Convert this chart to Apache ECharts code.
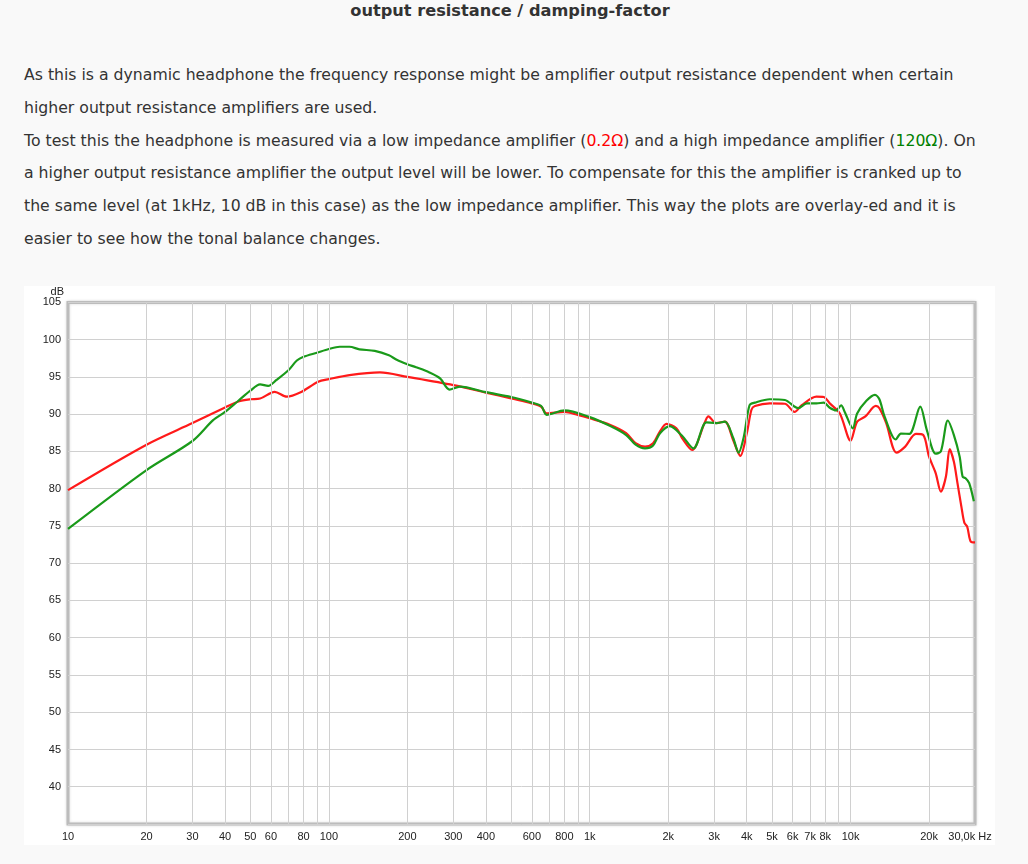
<!DOCTYPE html>
<html>
<head>
<meta charset="utf-8">
<script src="https://cdn.jsdelivr.net/npm/echarts@6/dist/echarts.min.js"></script>
<style>
  html, body { margin:0; padding:0; background:#f9f9f9; width:1028px; height:864px; overflow:hidden; }
  #title { position:absolute; left:0; width:1020px; top:1px; text-align:center; font-family:"DejaVu Sans",sans-serif; font-weight:bold; font-size:16.2px; color:#333; }
  #text { position:absolute; left:24px; top:59px; font-family:"DejaVu Sans",sans-serif; font-size:15.7px; line-height:32.8px; color:#333; white-space:nowrap; }
  .r { color:#ff0000; } .g { color:#008000; }
  #chart { position:absolute; left:24px; top:286px; width:971px; height:559px; background:#ffffff; }
</style>
</head>
<body>
<div id="title">output resistance / damping-factor</div>
<div id="text">As this is a dynamic headphone the frequency response might be amplifier output resistance dependent when certain<br>higher output resistance amplifiers are used.<br>To test this the headphone is measured via a low impedance amplifier (<span class="r">0.2Ω</span>) and a high impedance amplifier (<span class="g">120Ω</span>). On<br>a higher output resistance amplifier the output level will be lower. To compensate for this the amplifier is cranked up to<br>the same level (at 1kHz, 10 dB in this case) as the low impedance amplifier. This way the plots are overlay-ed and it is<br>easier to see how the tonal balance changes.</div>
<div id="chart"></div>
<script>
// ---- data ----
const redFreq = [10,20,30,40,45,50,54.5,62,69,77.6,91,100,120,157,200,300,400,500,600,652,684,800,900,1000,1200,1380,1500,1630,1750,1860,1970,2150,2260,2470,2770,2850,3050,3300,3550,3780,4000,4170,4300,4900,5600,6100,6500,7400,7900,8300,9100,10000,10600,11400,12500,12900,13700,15000,16200,17800,19000,20000,21200,22200,23200,24000,24900,25700,26600,27300,28000,28900,30000];
const redDb   = [79.8,85.9,88.8,90.9,91.7,92.0,92.1,93.0,92.35,92.9,94.35,94.7,95.25,95.6,95.0,93.9,92.9,92.1,91.45,91.0,90.1,90.3,89.9,89.45,88.55,87.45,86.1,85.65,86.1,87.7,88.7,88.1,86.8,85.2,89.0,89.7,88.8,89.0,86.5,84.4,87.4,90.6,91.1,91.45,91.4,90.3,91.2,92.35,92.3,91.5,90.1,86.45,89.0,89.7,91.1,90.8,88.8,84.85,85.65,87.35,87.2,84.3,82.1,79.6,81.6,85.3,83.6,80.75,77.6,75.45,74.9,72.9,72.8];
const greenFreq = [10,20,30,36,40,45,50,54.5,58.5,63,70,75.4,80,90,100,110,120,131,150,170,182,200,216,243,267,290,318,400,500,600,652,684,800,1000,1200,1380,1500,1630,1750,1860,2030,2260,2500,2800,3050,3300,3550,3720,3900,4100,4300,4900,5600,6300,6800,7400,7900,8300,8800,9200,9500,10200,10600,11500,12400,12900,13500,14900,15600,16800,18500,19600,21200,22200,23600,24900,26200,26900,27600,28500,29700];
const greenDb   = [74.6,82.5,86.4,89.2,90.3,91.8,93.15,94.0,93.8,94.6,95.9,97.2,97.7,98.25,98.75,99.05,99.05,98.7,98.5,97.9,97.3,96.7,96.3,95.6,94.8,93.3,93.7,92.95,92.3,91.55,91.1,89.9,90.5,89.6,88.4,87.2,85.9,85.4,85.8,87.45,88.4,87.1,85.4,88.9,88.8,89.0,86.8,84.85,87.0,91.2,91.55,92.0,91.9,90.8,91.45,91.45,91.55,90.9,90.5,91.2,90.3,88.1,90.1,91.8,92.6,92.0,89.7,86.6,87.4,87.35,91.0,87.9,84.7,85.0,89.15,87.2,84.3,81.6,81.4,80.75,78.3];
const xGridValues = [20,30,40,50,60,70,80,90,100,200,300,400,500,600,700,800,900,1000,2000,3000,4000,5000,6000,7000,8000,9000,10000,20000];
const xTickValues = [10,20,30,40,50,60,80,100,200,300,400,600,800,1000,2000,3000,4000,5000,6000,7000,8000,10000,20000,30000];
const xTickLabels = ['10','20','30','40','50','60','80','100','200','300','400','600','800','1k','2k','3k','4k','5k','6k','7k','8k','10k','20k','30,0k Hz'];
const yMin = 35, yMax = 105, yStep = 5;

// ---- chart ----
const chart = echarts.init(document.getElementById('chart'));
const pairs = (fs, vs) => fs.map((f, i) => [f, vs[i]]);
const allX = Array.from(new Set(xGridValues.concat(xTickValues))).sort((a, b) => a - b);
const markItems = allX.map(v => {
  const ti = xTickValues.indexOf(v);
  const isGrid = xGridValues.indexOf(v) >= 0;
  const item = { xAxis: v };
  if (!isGrid) item.lineStyle = { color: 'rgba(0,0,0,0)' };
  item.label = ti >= 0
    ? { show: true, formatter: xTickLabels[ti], offset: v === 30000 ? [-5, 0] : [0, 0] }
    : { show: false };
  return item;
});
chart.setOption({
  animation: false,
  grid: { left: 44, right: 20, top: 16, bottom: 21, show: true, borderColor: '#bcbcbc', borderWidth: 3,
          shadowColor: 'rgba(0,0,0,0.15)', shadowBlur: 3, backgroundColor: '#ffffff' },
  xAxis: {
    type: 'log', logBase: 10, min: 10, max: 30000,
    axisLine: { show: false }, axisTick: { show: false }, axisLabel: { show: false }, splitLine: { show: false }
  },
  yAxis: {
    type: 'value', min: yMin, max: yMax, interval: yStep,
    name: 'dB', nameLocation: 'end', nameGap: 2,
    nameTextStyle: { align: 'right', padding: [0, 4, 0, 0], color: '#222', fontSize: 11, fontFamily: 'Liberation Sans' },
    axisLine: { show: false }, axisTick: { show: false },
    axisLabel: { color: '#222', fontSize: 11, fontFamily: 'Liberation Sans', margin: 7,
                 formatter: v => (v === yMin ? '' : String(v)) },
    splitLine: { lineStyle: { color: '#d0d0d0', width: 1 } }
  },
  series: [
    { type: 'line', data: [], silent: true, clip: false,
      markLine: { silent: true, symbol: ['none', 'none'], animation: false,
        lineStyle: { color: '#d0d0d0', type: 'solid', width: 1 },
        label: { position: 'start', distance: 7, color: '#222', fontSize: 11, fontFamily: 'Liberation Sans' },
        data: markItems } },
    { name: '0.2Ω', type: 'line', data: pairs(redFreq, redDb), smooth: 0.3, showSymbol: false,
      lineStyle: { color: '#ff1a1a', width: 2.2 }, z: 3 },
    { name: '120Ω', type: 'line', data: pairs(greenFreq, greenDb), smooth: 0.3, showSymbol: false,
      lineStyle: { color: '#1a9a1a', width: 2.2 }, z: 4 }
  ]
});
</script>
</body>
</html>
